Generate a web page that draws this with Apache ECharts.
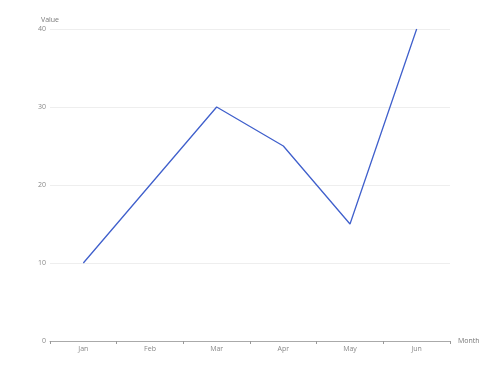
<!DOCTYPE html>
<html>
<head>
<meta charset="utf-8">
<script src="https://cdn.jsdelivr.net/npm/echarts@6/dist/echarts.min.js"></script>
<style>
  html, body { margin: 0; padding: 0; background: #fff; }
  #chart { width: 500px; height: 375px; }
</style>
</head>
<body>
<div id="chart"></div>
<script>
const months = ['Jan', 'Feb', 'Mar', 'Apr', 'May', 'Jun']
const values = [10, 20, 30, 25, 15, 40]
const yTicks = { min: 0, max: 40, interval: 10 }

const FONT = '"Open Sans", sans-serif'
const chart = echarts.init(document.getElementById('chart'))

chart.setOption({
  animation: false,
  grid: { left: 50, right: 50, top: 29, bottom: 34, containLabel: false },
  xAxis: {
    type: 'category',
    data: months,
    name: 'Month',
    nameLocation: 'end',
    nameGap: 8,
    nameTextStyle: { color: '#777', fontSize: 7, fontFamily: FONT },
    axisLine: { lineStyle: { color: '#aaa', width: 1 } },
    axisTick: { show: true, lineStyle: { color: '#999', width: 1 }, length: 3 },
    axisLabel: { color: '#888', fontSize: 7, fontFamily: FONT, margin: 4 }
  },
  yAxis: {
    type: 'value',
    min: yTicks.min,
    max: yTicks.max,
    interval: yTicks.interval,
    name: 'Value',
    nameLocation: 'end',
    nameGap: 6,
    nameTextStyle: { color: '#777', fontSize: 7, fontFamily: FONT, align: 'center' },
    axisLine: { show: false },
    axisTick: { show: false },
    axisLabel: { color: '#888', fontSize: 7, fontFamily: FONT, margin: 4 },
    splitLine: { lineStyle: { color: '#eee', width: 1 } }
  },
  series: [{
    type: 'line',
    data: values,
    showSymbol: false,
    symbol: 'none',
    lineStyle: { color: '#4060cc', width: 1.3 }
  }]
})
</script>
</body>
</html>
